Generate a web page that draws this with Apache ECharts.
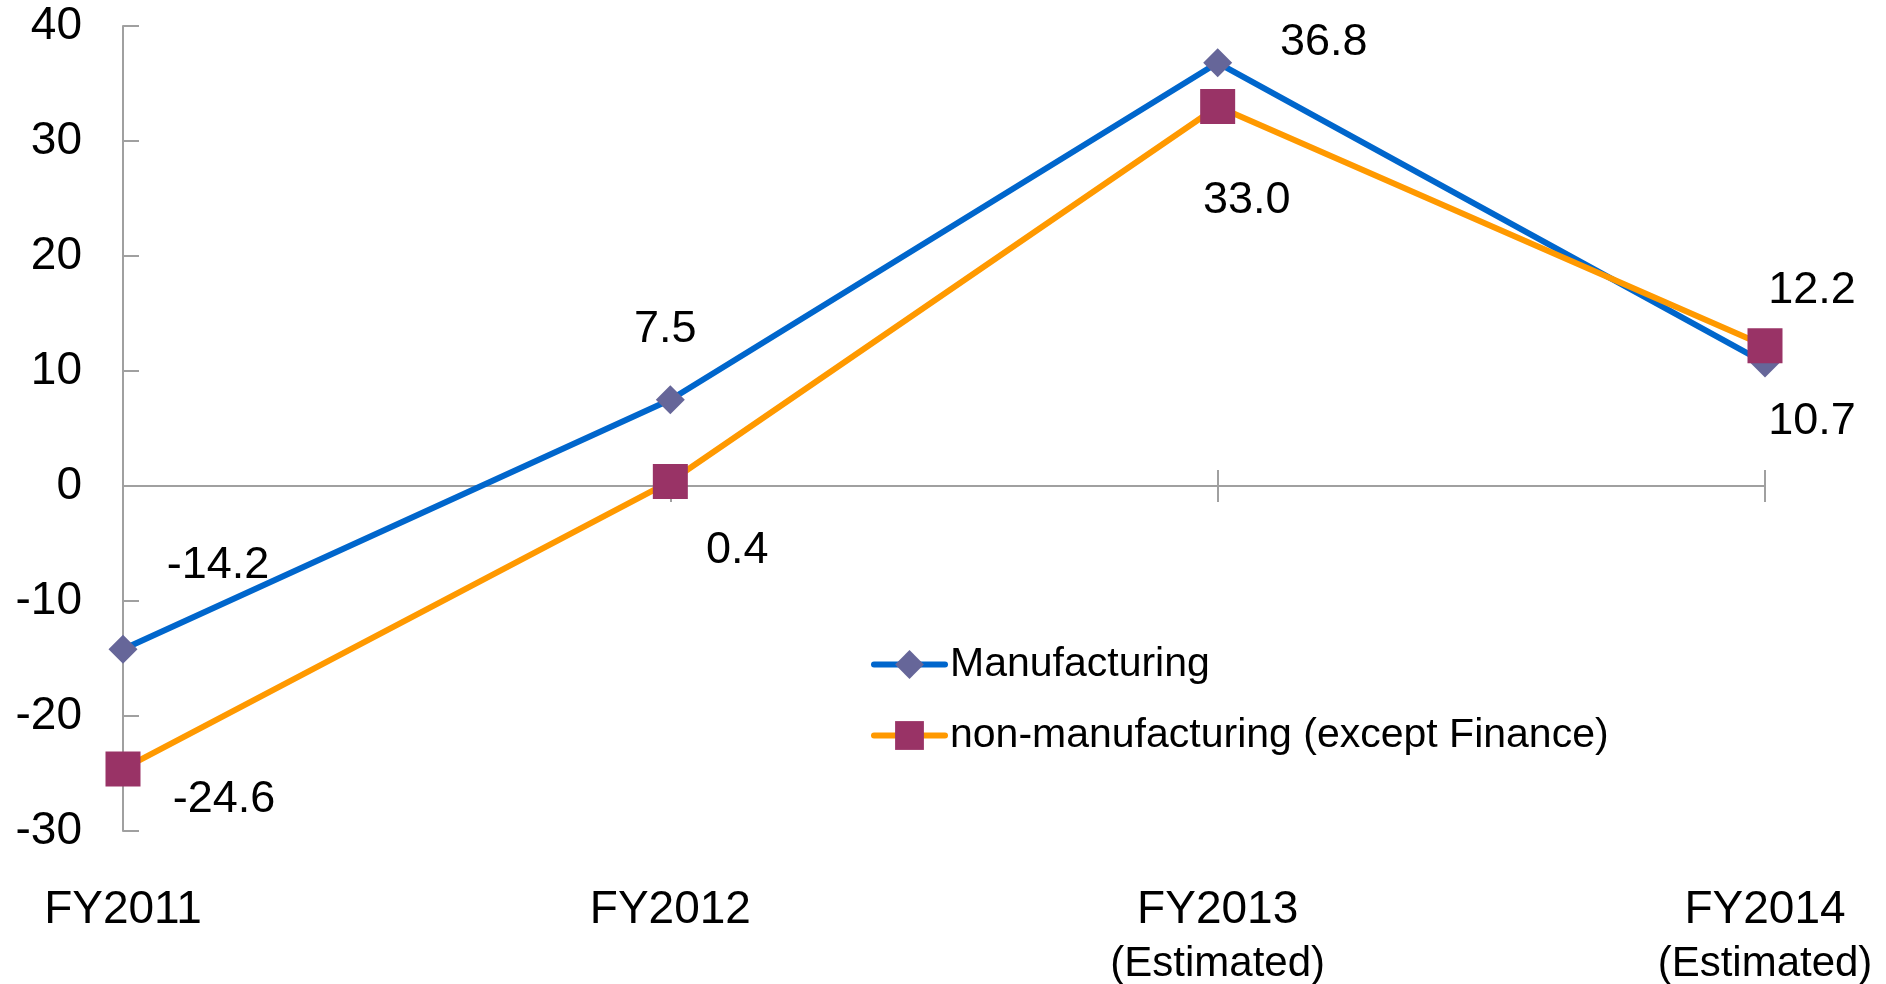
<!DOCTYPE html>
<html>
<head>
<meta charset="utf-8">
<script src="https://cdn.jsdelivr.net/npm/echarts@6/dist/echarts.min.js"></script>
<style>
  html, body { margin: 0; padding: 0; background: #fff; }
  #chart { width: 1886px; height: 984px; }
</style>
</head>
<body>
<div id="chart"></div>
<script>
  // data
  const categories = ['FY2011', 'FY2012', 'FY2013\n(Estimated)', 'FY2014\n(Estimated)'];
  const manufacturing = [-14.2, 7.5, 36.8, 10.7];
  const nonManufacturing = [-24.6, 0.4, 33.0, 12.2];
  const yMin = -30, yMax = 40, yStep = 10;

  // where each value label sits relative to its point
  const mfgLabelOffsets = [[95, -84], [-5, -70], [106, -20], [47, 59]];
  const nonLabelOffsets = [[101, 31], [67, 69], [29, 94], [47, -55]];

  const font = '"Liberation Sans", Arial, sans-serif';
  const axisGray = '#a0a0a0';

  function withLabels(values, offsets) {
    return values.map((v, i) => ({
      value: v,
      label: {offset: offsets[i]}
    }));
  }

  const chart = echarts.init(document.getElementById('chart'));
  const option = {
    animation: false,
    backgroundColor: '#fff',
    grid: {left: 123, right: 121, top: 26, bottom: 153, outerBoundsMode: 'none'},
    legend: {
      orient: 'vertical',
      left: 866,
      top: 639,
      itemWidth: 71,
      itemHeight: 36,
      itemGap: 30,
      lineStyle: {width: 6, cap: 'round'},
      textStyle: {fontFamily: font, fontSize: 41, lineHeight: 36, color: '#000'},
      data: ['Manufacturing', 'non-manufacturing (except Finance)']
    },
    xAxis: [
      {
        // line on zero, ticks pointing down
        type: 'category', data: categories, boundaryGap: false,
        axisLine: {onZero: true, onZeroAxisIndex: 0, lineStyle: {color: axisGray, width: 2}},
        axisTick: {show: true, inside: false, length: 16, lineStyle: {color: axisGray, width: 2}},
        axisLabel: {show: false}, splitLine: {show: false}
      },
      {
        // same axis, ticks pointing up
        type: 'category', data: categories, boundaryGap: false, position: 'bottom',
        axisLine: {show: false, onZero: true, onZeroAxisIndex: 0},
        axisTick: {show: true, inside: true, length: 16, lineStyle: {color: axisGray, width: 2}},
        axisLabel: {show: false}, splitLine: {show: false}
      },
      {
        // category names at the bottom
        type: 'category', data: categories, boundaryGap: false, position: 'bottom',
        axisLine: {show: false, onZero: false},
        axisTick: {show: false},
        splitLine: {show: false},
        axisLabel: {
          margin: 53,
          interval: 0,
          verticalAlign: 'top',
          formatter: function (v) {
            const parts = v.split('\n');
            return parts.map((p, i) => (i === 0 ? '{a|' : '{b|') + p + '}').join('\n');
          },
          rich: {
            a: {fontFamily: font, fontSize: 46, lineHeight: 52, color: '#000'},
            b: {fontFamily: font, fontSize: 42, lineHeight: 56, color: '#000'}
          }
        }
      }
    ],
    yAxis: {
      type: 'value', min: yMin, max: yMax, interval: yStep,
      axisLine: {show: true, lineStyle: {color: axisGray, width: 2}},
      axisTick: {show: true, inside: true, length: 16, lineStyle: {color: axisGray, width: 2}},
      splitLine: {show: false},
      axisLabel: {margin: 41, fontFamily: font, fontSize: 46, color: '#000'}
    },
    series: [
      {
        name: 'Manufacturing',
        type: 'line',
        data: withLabels(manufacturing, mfgLabelOffsets),
        symbol: 'diamond',
        symbolSize: 29,
        lineStyle: {color: '#0066cc', width: 6},
        itemStyle: {color: '#666699'},
        label: {
          show: true, position: 'inside',
          fontFamily: font, fontSize: 45, color: '#000',
          formatter: p => p.value.toFixed(1)
        }
      },
      {
        name: 'non-manufacturing (except Finance)',
        type: 'line',
        data: withLabels(nonManufacturing, nonLabelOffsets),
        symbol: 'rect',
        symbolSize: 35,
        lineStyle: {color: '#ff9900', width: 6},
        itemStyle: {color: '#993366'},
        label: {
          show: true, position: 'inside',
          fontFamily: font, fontSize: 45, color: '#000',
          formatter: p => p.value.toFixed(1)
        }
      }
    ]
  };
  chart.setOption(option);
</script>
</body>
</html>
